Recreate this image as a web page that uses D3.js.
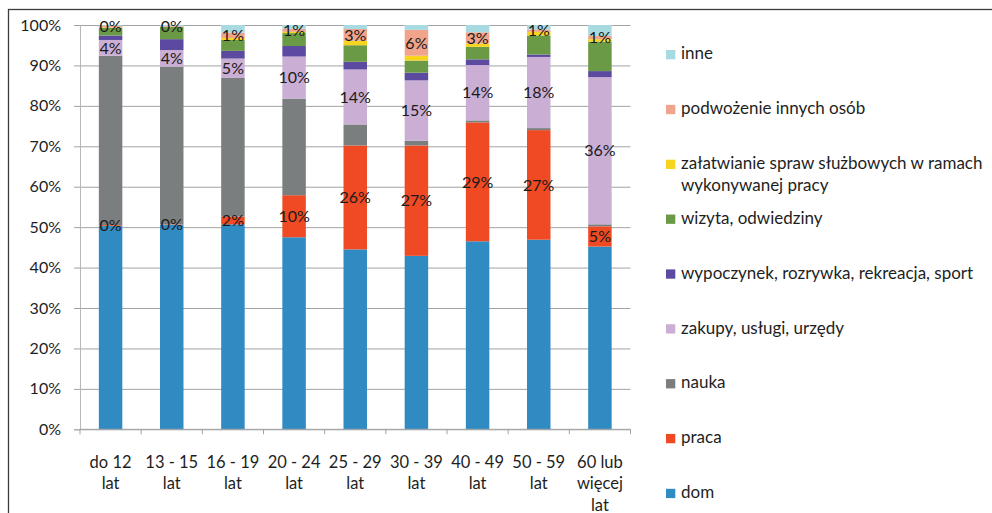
<!DOCTYPE html>
<html><head><meta charset="utf-8">
<script src="https://cdn.jsdelivr.net/npm/d3@7"></script>
<style>
html,body{margin:0;padding:0;background:#fff;}
svg{display:block;font-family:Lato,"Open Sans",sans-serif;}
</style></head><body>
<svg id="chart" width="992" height="513"></svg>
<script>
// Age groups (x axis), wrapped labels use "\n"
const categories = ["do 12\nlat", "13 - 15\nlat", "16 - 19\nlat", "20 - 24\nlat", "25 - 29\nlat",
                    "30 - 39\nlat", "40 - 49\nlat", "50 - 59\nlat", "60 lub\nwięcej\nlat"];

// Share of trips by purpose, % per age group (bottom to top of each bar)
const dom         = [50.3, 50.6, 50.7, 47.5, 44.5, 42.9, 46.5, 46.9, 45.2];
const praca       = [0.2, 0.1, 1.9, 10.4, 25.7, 27.3, 29.4, 27.1, 5.0];
const nauka       = [41.9, 39.0, 34.3, 23.9, 5.2, 1.2, 0.5, 0.5, 0.5];
const zakupy      = [3.9, 4.1, 4.8, 10.4, 13.6, 14.9, 13.7, 17.6, 36.4];
const wypoczynek  = [1.1, 2.7, 1.9, 2.6, 1.9, 1.9, 1.4, 0.6, 1.5];
const wizyta      = [1.9, 3.0, 2.7, 3.2, 4.1, 3.0, 3.1, 4.7, 7.3];
const zalatwianie = [0.1, 0.0, 0.5, 0.3, 1.1, 1.2, 0.8, 0.9, 0.6];
const podwozenie  = [0.4, 0.2, 1.3, 0.8, 2.9, 6.4, 2.8, 0.6, 0.8];
const inne        = [0.2, 0.3, 1.9, 0.9, 1.0, 1.2, 1.8, 1.1, 2.7];

const seriesKeys = ["dom", "praca", "nauka", "zakupy", "wypoczynek", "wizyta", "zalatwianie", "podwozenie", "inne"];
const seriesLabels = ["dom", "praca", "nauka", "zakupy, usługi, urzędy", "wypoczynek, rozrywka, rekreacja, sport",
                      "wizyta, odwiedziny", "załatwianie spraw służbowych w ramach\nwykonywanej pracy",
                      "podwożenie innych osób", "inne"];
const seriesColors = ["#318bc3", "#ef4a23", "#7b7e7f", "#cbaed4", "#5b4a9f", "#6a9a45", "#f7d51f", "#f0a48b", "#a7dbe1"];
const labelledKeys = ["praca", "zakupy", "podwozenie"];

const yTicks = [0, 10, 20, 30, 40, 50, 60, 70, 80, 90, 100];

const seriesData = {dom, praca, nauka, zakupy, wypoczynek, wizyta, zalatwianie, podwozenie, inne};
const rows = categories.map((c, i) => {
  const r = {category: c};
  seriesKeys.forEach(k => r[k] = seriesData[k][i]);
  return r;
});

const svg = d3.select("#chart");

// outer frame
svg.append("rect").attr("x", 8.5).attr("y", 9.5).attr("width", 1100).attr("height", 600)
  .attr("fill", "none").attr("stroke", "#3c3c3c").attr("stroke-width", 1.3);

const plot = {left: 80, right: 630.5, top: 25, bottom: 429.3};

const x = d3.scaleBand().domain(categories).range([plot.left, plot.right])
  .paddingInner(0.616).paddingOuter(0.308);
const y = d3.scaleLinear().domain([0, 100]).range([plot.bottom, plot.top]);

// horizontal gridlines
svg.append("g").attr("transform", `translate(${plot.left},0)`)
  .call(d3.axisLeft(y).tickValues(yTicks).tickSize(-(plot.right - plot.left)).tickFormat(""))
  .call(g => g.select(".domain").remove())
  .call(g => g.selectAll("line").attr("stroke", "#a3a3a3").attr("stroke-width", 1));

// y axis with labels
svg.append("g").attr("transform", `translate(${plot.left},0)`)
  .call(d3.axisLeft(y).tickValues(yTicks).tickSize(6).tickPadding(13).tickFormat(d => d + "%"))
  .call(g => g.select(".domain").attr("stroke", "#b8b8b8"))
  .call(g => g.selectAll("line").attr("stroke", "#a3a3a3"))
  .call(g => g.selectAll("text").attr("font-size", 16).attr("fill", "#1e1e1e")
    .attr("font-family", "Lato, 'Open Sans', sans-serif"));

// stacked bars
const stack = d3.stack().keys(seriesKeys);
const layers = stack(rows);

const gBars = svg.append("g");
layers.forEach((layer, li) => {
  gBars.append("g").attr("fill", seriesColors[li])
    .selectAll("rect").data(layer).join("rect")
    .attr("x", d => x(d.data.category))
    .attr("width", x.bandwidth())
    .attr("y", d => y(d[1]))
    .attr("height", d => y(d[0]) - y(d[1]));
});

// x axis line and category boundary ticks
svg.append("line").attr("x1", plot.left).attr("x2", plot.right)
  .attr("y1", plot.bottom).attr("y2", plot.bottom).attr("stroke", "#a3a3a3");
d3.range(categories.length + 1).forEach(i => {
  const tx = plot.left + i * x.step();
  svg.append("line").attr("x1", tx).attr("x2", tx).attr("y1", plot.bottom).attr("y2", plot.bottom + 5)
    .attr("stroke", "#a3a3a3");
});

// x category labels
const gx = svg.append("g").attr("font-size", 16.5).attr("fill", "#1e1e1e").attr("text-anchor", "middle");
categories.forEach(c => {
  const t = gx.append("text").attr("x", x(c) + x.bandwidth() / 2).attr("y", 467.5);
  c.split("\n").forEach((line, j) => {
    t.append("tspan").attr("x", x(c) + x.bandwidth() / 2).attr("dy", j === 0 ? 0 : 21.5).text(line);
  });
});

// value labels centred on labelled segments
const gLab = svg.append("g").attr("font-size", 16).attr("fill", "#1a1a1a").attr("text-anchor", "middle");
layers.filter(l => labelledKeys.includes(l.key)).forEach(layer => {
  gLab.selectAll(null).data(layer).join("text")
    .attr("x", d => x(d.data.category) + x.bandwidth() / 2)
    .attr("y", d => (y(d[0]) + y(d[1])) / 2)
    .attr("dy", "0.36em")
    .text(d => Math.round(d[1] - d[0]) + "%");
});

// legend, top entry is the last series
const gLeg = svg.append("g").attr("font-size", 17).attr("fill", "#1e1e1e");
const legendOrder = seriesKeys.map((k, i) => i).reverse();
legendOrder.forEach((si, j) => {
  const base = 59.3 + j * 54.85;
  gLeg.append("rect").attr("x", 666).attr("y", base - 9.3).attr("width", 9.3).attr("height", 9.3)
    .attr("fill", seriesColors[si]);
  const t = gLeg.append("text").attr("x", 681).attr("y", base);
  seriesLabels[si].split("\n").forEach((line, k) => {
    t.append("tspan").attr("x", 681).attr("dy", k === 0 ? 0 : 21.5).text(line);
  });
});
</script>
</body></html>
